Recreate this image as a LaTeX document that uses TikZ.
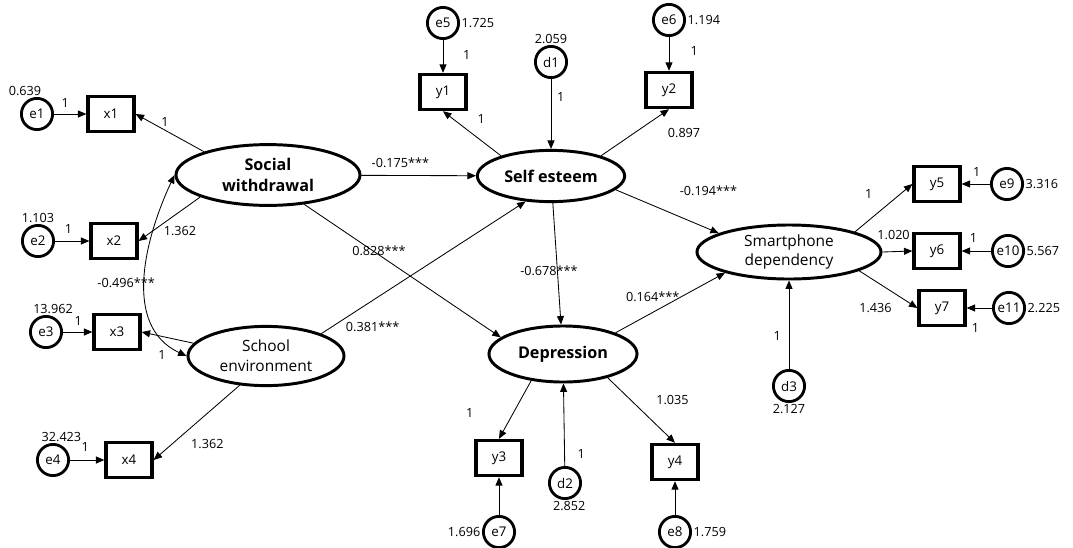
\documentclass[tikz,border=0pt]{standalone}
\usepackage{fontspec}
\setmainfont{Open Sans}
\usetikzlibrary{shapes.geometric, arrows.meta, positioning}

\begin{document}
\begin{tikzpicture}[
  x=0.025cm, y=-0.025cm,
  lat/.style={draw, ellipse, line width=2.1pt, inner sep=0pt, align=center, font=\fontsize{11.5}{15}\selectfont\bfseries},
  latr/.style={lat, font=\fontsize{11}{14}\selectfont},
  obs/.style={draw, rectangle, line width=2.3pt, minimum width=1.15cm, minimum height=0.88cm, font=\fontsize{9.5}{11}\selectfont},
  err/.style={draw, circle, line width=2pt, minimum size=0.78cm, inner sep=0pt, font=\fontsize{9.5}{11}\selectfont},
  num/.style={font=\fontsize{9}{10}\selectfont, inner sep=1pt},
  arr/.style={-{Triangle[length=6pt, width=5pt]}, line width=0.6pt},
  darr/.style={{Triangle[length=6pt, width=5pt]}-{Triangle[length=6pt, width=5pt]}, line width=0.6pt}
]
\useasboundingbox (0,0) rectangle (1073,547);

% latent variables
\node[lat, minimum width=4.6cm, minimum height=1.52cm] (sw) at (268,175) {Social\\withdrawal};
\node[latr, minimum width=3.9cm, minimum height=1.48cm] (sch) at (266,356) {School\\environment};
\node[lat, minimum width=3.68cm, minimum height=1.28cm] (se) at (551,176) {Self esteem};
\node[lat, minimum width=3.7cm, minimum height=1.4cm] (dep) at (563,354) {Depression};
\node[latr, minimum width=4.6cm, minimum height=1.35cm] (sp) at (789,252) {Smartphone\\dependency};

% observed variables
\node[obs] (x1) at (111,114) {x1};
\node[obs] (x2) at (114,241) {x2};
\node[obs] (x3) at (117,332) {x3};
\node[obs] (x4) at (129,460) {x4};
\node[obs] (y1) at (443,92) {y1};
\node[obs] (y2) at (669,90) {y2};
\node[obs] (y3) at (499,458) {y3};
\node[obs] (y4) at (675,462) {y4};
\node[obs] (y5) at (937,184) {y5};
\node[obs] (y6) at (937,251) {y6};
\node[obs] (y7) at (942,308) {y7};

% errors and disturbances
\node[err, label={[num, xshift=-8.5pt]above:0.639}] (e1) at (37,114) {e1};
\node[err, label={[num]above:1.103}] (e2) at (38,241) {e2};
\node[err, label={[num, xshift=5pt]above:13.962}] (e3) at (46,332) {e3};
\node[err, label={[num, xshift=6pt]above:32.423}] (e4) at (53,460) {e4};
\node[err, label={[num]right:1.725}] (e5) at (443,23) {e5};
\node[err, label={[num]above:2.059}] (d1) at (551,62) {d1};
\node[err, label={[num]right:1.194}] (e6) at (669,20) {e6};
\node[err, label={[num]left:1.696}] (e7) at (499,532) {e7};
\node[err, label={[num, xshift=3pt]below:2.852}] (d2) at (565,483) {d2};
\node[err, label={[num]right:1.759}] (e8) at (675,532) {e8};
\node[err, label={[num]below:2.127}] (d3) at (789,386) {d3};
\node[err, label={[num]right:3.316}] (e9) at (1007,184) {e9};
\node[err, label={[num]right:5.567}] (e10) at (1008,251) {e10};
\node[err, label={[num]right:2.225}] (e11) at (1009,308) {e11};

% exogenous measurement
\draw[arr] (e1) -- node[num, pos=.35, above=3pt] {1} (x1);
\draw[arr] (e2) -- node[num, pos=.39, above=4pt] {1} (x2);
\draw[arr] (e3) -- node[num, pos=.52, above=3pt] {1} (x3);
\draw[arr] (e4) -- node[num, pos=.44, above=5pt] {1} (x4);
\draw[arr] (sw.160) -- node[num, pos=.57, above=1pt] {1} (x1.east);
\draw[arr] (sw.198) -- node[num, pos=.33, below=9pt] {1.362} (x2.east);
\draw[arr] (sch.170) -- node[num, pos=.61, below=9pt] {1} (x3.east);
\draw[arr] (sch.228) -- node[num, pos=.78, right=12pt] {1.362} (x4.east);
\draw[darr] (sw.west) to[out=245, in=155] node[num, pos=.52, xshift=-13.5pt] {-0.496***} (sch.west);

% structural paths
\draw[arr] (sw) -- node[num, pos=.34, above=4.5pt] {-0.175***} (se);
\draw[arr] (sw.-39) -- node[num, pos=.38, yshift=3pt] {0.828***} (dep.165);
\draw[arr] (sch.22) -- node[num, pos=.05, right=9pt] {0.381***} (se.225);
\draw[arr] (se.-12) -- node[num, pos=.9, above=22pt] {-0.194***} (sp.165);
\draw[arr] (se) -- node[num, pos=.56, xshift=-6pt] {-0.678***} (dep);
\draw[arr] (dep.22) -- node[num, pos=.34, above=6.5pt] {0.164***} (sp.198);

% self esteem
\draw[arr] (e5) -- node[num, pos=.45, right=13pt] {1} (y1);
\draw[arr] (se.158) -- node[num, pos=.34, above=11pt] {1} (y1.south);
\draw[arr] (d1) -- node[num, pos=.25, right=3pt] {1} (se);
\draw[arr] (e6) -- node[num, pos=.4, right=14pt] {1} (y2);
\draw[arr] (se.22) -- node[num, pos=.75, below right=4pt and 10pt] {0.897} (y2.south);

% depression
\draw[arr] (dep.220) -- node[num, pos=.56, left=27pt] {1} (y3.north);
\draw[arr] (e7) -- (y3);
\draw[arr] (d2) -- node[num, pos=.14, right=8pt] {1} (dep);
\draw[arr] (dep.-28) -- node[num, pos=.34, right=17pt] {1.035} (y4.north);
\draw[arr] (e8) -- (y4);

% smartphone dependency
\draw[arr] (sp.17) -- node[num, pos=.24, above=14pt] {1} (y5.west);
\draw[arr] (sp.east) -- node[num, pos=.37, above=7.5pt] {1.020} (y6.west);
\draw[arr] (sp.-15) -- node[num, pos=.28, below=14.5pt] {1.436} (y7.west);
\draw[arr] (d3) -- node[num, pos=.37, left=4.5pt] {1} (sp);
\draw[arr] (e9) -- node[num, pos=.47, above=4pt] {1} (y5);
\draw[arr] (e10) -- node[num, pos=.6, above=4.5pt] {1} (y6);
\draw[arr] (e11) -- node[num, pos=.65, below=10pt] {1} (y7);

\end{tikzpicture}
\end{document}
